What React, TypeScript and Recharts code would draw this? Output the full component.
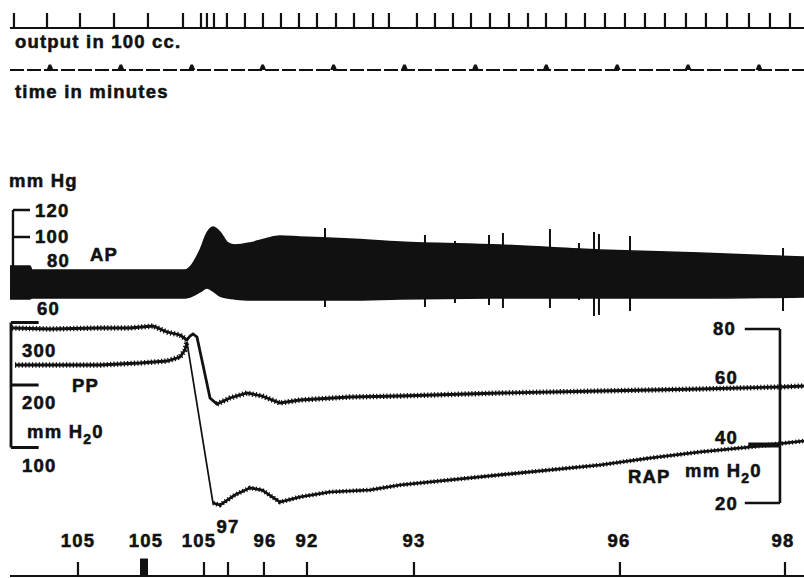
import React from 'react';
import { ComposedChart, Line, Area, Scatter, XAxis, YAxis } from 'recharts';

// ---------- data (time in minutes, values in each trace's own unit) ----------
// drop counter: moments when 100 cc of output were recorded
const outputDrops = [-0.508, -0.042, 0.423, 0.903, 1.382, 1.876, 2.13, 2.214, 2.313, 2.496, 2.75, 3.004, 3.258, 3.512, 3.766, 4.034, 4.288, 4.556, 4.781, 5.176, 5.43, 5.684, 5.938, 6.206, 6.474, 6.742, 6.996, 7.278, 7.546, 7.828, 8.11, 8.392, 8.674, 8.97, 9.252, 9.549, 9.859, 10.155, 10.437];
// time marks (minutes)
const minuteMarks = [0, 1, 2, 3, 4, 5, 6, 7, 8, 9, 10];

// arterial pressure envelope, mm Hg
const apTimes = [-0.564, -0.282, -0.254, 0.705, 1.904, 1.975, 2.116, 2.214, 2.299, 2.398, 2.511, 2.609, 2.821, 3.032, 3.244, 3.526, 4.231, 4.937, 6.347, 7.757, 9.168, 10.635];
const apLow = [54.1, 54.1, 54.8, 54.8, 54.8, 55.6, 59.3, 62.2, 60.0, 56.3, 54.8, 54.1, 53.3, 53.3, 53.3, 53.3, 53.3, 54.1, 54.8, 54.8, 54.8, 55.6];
const apHigh = [78.5, 78.5, 75.6, 75.6, 75.6, 77.8, 90.4, 103.0, 107.4, 103.7, 95.6, 94.1, 95.6, 98.5, 100.7, 100.0, 98.5, 96.3, 94.1, 90.4, 88.1, 85.2];
// extrasystole spikes on AP, mm Hg
const apSpikeTimes = [3.879, 5.289, 5.712, 6.192, 6.389, 7.052, 7.461, 7.673, 7.743, 8.181, 10.339];
const apSpikeLow = [48.1, 48.1, 51.1, 49.6, 47.4, 47.4, 53.3, 41.5, 42.2, 45.2, 45.2];
const apSpikeHigh = [106.7, 101.5, 97.0, 101.5, 103.0, 105.9, 95.6, 103.7, 102.2, 100.7, 91.9];

// PP, mm H2O: upper trace
const ppUpperTimes = [-0.536, 0, 0.705, 1.128, 1.453, 1.65, 1.834, 1.932, 1.975, 2.017, 2.073, 2.158, 2.257, 2.355, 2.539, 2.779, 2.99, 3.244, 3.526, 4.231, 4.937, 6.347, 7.757, 9.168, 10.296, 10.635];
const ppUpperValues = [291.2, 289.6, 291.2, 291.2, 294.4, 284.8, 280, 272, 278.4, 281.6, 276.8, 232, 179.2, 169.6, 179.2, 187.2, 182.4, 171.2, 176, 180.8, 182.4, 187.2, 190.4, 193.6, 196.8, 198.4];
// PP, mm H2O: lower trace before the change
const ppLowerTimes = [-0.494, 0.705, 1.269, 1.65, 1.834, 1.904, 1.932];
const ppLowerValues = [232, 232, 235.2, 238.4, 244.8, 256, 268.8];
// RAP, mm H2O
const rapTimes = [1.932, 2.299, 2.398, 2.609, 2.821, 2.99, 3.244, 3.526, 3.949, 4.513, 4.937, 6.347, 7.757, 8.463, 9.168, 9.873, 10.635];
const rapValues = [75.5, 20.0, 19.3, 22.8, 25.2, 24.5, 20.3, 22.1, 23.8, 24.5, 26.2, 29.7, 33.1, 35.5, 37.6, 39.3, 41.4];

// scale brackets
const apScaleTicks = [120, 100];
const ppScaleTicks = [300, 200, 100];
const rapScaleTicks = [80, 20];
const rapScaleMark = 40;

// bottom event marks and their numbers
const bottomTicks = [0.395, 2.172, 2.511, 3.018, 3.625, 5.134, 8.039, 10.367];
const bottomBlock = 1.326;
const bottomLabelTimes = [0.395, 1.354, 2.101, 2.511, 3.032, 3.625, 5.134, 8.025, 10.339];
const bottomLabelTexts = ['105', '105', '105', '97', '96', '92', '93', '96', '98'];
const bottomLabelRaised = [false, false, false, true, false, false, false, false, false];

// ---------- layout ----------
const W = 804;
const H = 578;
const X_DOMAIN: [number, number] = [-0.705, 10.635];
const T_START = -0.564;
const T_END = 10.635;
const AP_BR_X = -0.522, AP_TICK_END = -0.282;
const PP_BR_X = -0.55, PP_TICK_END = -0.16;
const RAP_BR_X = 10.296, RAP_TICK_START = 9.8;

function yDomain(refValue: number, refPx: number, pxPerUnit: number): [number, number] {
  return [refValue - (H - refPx) / pxPerUnit, refValue + refPx / pxPerUnit];
}

type P = { t: number; v: number | null };
function segs(list: Array<Array<[number, number]>>): P[] {
  const out: P[] = [];
  list.forEach((s, i) => {
    if (i > 0) out.push({ t: s[0][0], v: null });
    s.forEach(([t, v]) => out.push({ t, v }));
  });
  return out;
}
function series(ts: number[], vs: number[]): P[] {
  return ts.map((t, i) => ({ t, v: vs[i] }));
}
function tickRow(ticks: number[]): P[] {
  const out: P[] = [{ t: T_START, v: 0 }];
  ticks.forEach((t) => { out.push({ t, v: 0 }, { t, v: 1 }, { t, v: 0 }); });
  out.push({ t: T_END, v: 0 });
  return out;
}

const apData = apTimes.map((t, i) => ({ t, range: [apLow[i], apHigh[i]] }));
const apSpikes = segs(apSpikeTimes.map((t, i) => [[t, apSpikeLow[i]], [t, apSpikeHigh[i]]]));
const ppUpper = series(ppUpperTimes, ppUpperValues);
const ppLower = series(ppLowerTimes, ppLowerValues);
const rap = series(rapTimes, rapValues);
const ppUpperWavyA = ppUpper.filter((p) => p.t <= 1.932);
const ppUpperWavyB = ppUpper.filter((p) => p.t >= 2.355);
const rapWavy = rap.filter((p) => p.t >= 2.299);

const apBracket = segs([
  [[AP_BR_X, apScaleTicks[0]], [AP_BR_X, apHigh[0]]],
  ...apScaleTicks.map((v) => [[AP_BR_X, v], [AP_TICK_END, v]] as Array<[number, number]>),
]);
const ppBracket = segs([
  [[PP_BR_X, ppScaleTicks[0]], [PP_BR_X, ppScaleTicks[ppScaleTicks.length - 1]]],
  ...ppScaleTicks.map((v) => [[PP_BR_X, v], [PP_TICK_END, v]] as Array<[number, number]>),
]);
const rapBracket = segs([
  [[RAP_BR_X, rapScaleTicks[0]], [RAP_BR_X, rapScaleTicks[rapScaleTicks.length - 1]]],
  ...rapScaleTicks.map((v) => [[RAP_TICK_START, v], [RAP_BR_X, v]] as Array<[number, number]>),
]);
const rapMark = [{ t: RAP_TICK_START + 0.05, v: rapScaleMark }, { t: RAP_BR_X, v: rapScaleMark }];

const outputRow = tickRow(outputDrops);
const minuteBase = [{ t: T_START, v: 0 }, { t: T_END, v: 0 }];
const minuteData = minuteMarks.map((t) => ({ t, v: 0 }));
const bottomRow = tickRow(bottomTicks);
const blockData = [{ t: bottomBlock, v: 0 }, { t: bottomBlock, v: 1.25 }];
const bottomLabels = bottomLabelTimes.map((t, i) => ({ t, v: 0, text: bottomLabelTexts[i], raised: bottomLabelRaised[i] }));

const INK = '#111';
const FONT = '"Liberation Sans", Arial, Helvetica, sans-serif';
const textStyle: React.CSSProperties = { fontFamily: FONT, fontWeight: 700, fontSize: 18.5, letterSpacing: 1.2, stroke: INK, strokeWidth: 0.55 };

const TriangleMark = (props: any) => {
  const { cx, cy } = props;
  if (cx == null || cy == null) return null;
  return <path d={`M${cx - 3.5},${cy} L${cx - 1.2},${cy - 5.5} L${cx + 1.2},${cy - 5.5} L${cx + 3.5},${cy} Z`} fill={INK} />;
};
const BottomLabel = (props: any) => {
  const { cx, cy, payload } = props;
  if (cx == null || cy == null) return null;
  return (
    <text x={cx} y={cy - (payload.raised ? 43 : 29)} textAnchor="middle" fill={INK} style={textStyle}>
      {payload.text}
    </text>
  );
};

const Sub = ({ x, y }: { x: number; y: number }) => (
  <text x={x} y={y} fill={INK} style={textStyle}>
    mm H<tspan dy={6} fontSize={14}>2</tspan><tspan dy={-6}>0</tspan>
  </text>
);

const texts: Array<[string, number, number]> = [
  ['output in 100 cc.', 15, 48],
  ['time in minutes', 15, 98],
  ['mm Hg', 9, 187],
  ['120', 35, 217],
  ['100', 35, 243],
  ['80', 47, 267],
  ['AP', 90, 261],
  ['60', 37, 315],
  ['300', 22, 357],
  ['PP', 72, 392],
  ['200', 22, 409],
  ['100', 22, 472],
  ['80', 713, 335],
  ['60', 715, 384],
  ['40', 715, 444],
  ['RAP', 628, 483],
  ['20', 715, 510],
];

export default function App() {
  const lineProps = { dot: false, activeDot: false, isAnimationActive: false, stroke: INK, dataKey: 'v', type: 'linear' as const };
  const wavy = { ...lineProps, strokeWidth: 5.4, strokeDasharray: '1.2 2.2' };
  return (
    <div style={{ position: 'absolute', left: 0, top: 0, width: W, height: H, background: '#fff' }}>
      <ComposedChart width={W} height={H} margin={{ top: 0, right: 0, bottom: 0, left: 0 }}>
        <XAxis xAxisId="x" dataKey="t" type="number" domain={X_DOMAIN} allowDataOverflow hide />
        <YAxis yAxisId="out" dataKey="v" type="number" domain={yDomain(0, 28, 15)} allowDataOverflow hide />
        <YAxis yAxisId="min" dataKey="v" type="number" domain={yDomain(0, 70, 5)} allowDataOverflow hide />
        <YAxis yAxisId="ap" dataKey="v" type="number" domain={yDomain(120, 210, 1.35)} allowDataOverflow hide />
        <YAxis yAxisId="pp" dataKey="v" type="number" domain={yDomain(200, 385, 0.625)} allowDataOverflow hide />
        <YAxis yAxisId="rap" dataKey="v" type="number" domain={yDomain(40, 445, 2.9)} allowDataOverflow hide />
        <YAxis yAxisId="ev" dataKey="v" type="number" domain={yDomain(0, 576, 14)} allowDataOverflow hide />

        {/* top rows */}
        <Line {...lineProps} xAxisId="x" yAxisId="out" data={outputRow} strokeWidth={2.2} />
        <Line {...lineProps} xAxisId="x" yAxisId="min" data={minuteBase} strokeWidth={1.8} strokeDasharray="14 3" />
        <Scatter xAxisId="x" yAxisId="min" data={minuteData} dataKey="v" shape={TriangleMark} isAnimationActive={false} />

        {/* AP */}
        <Area xAxisId="x" yAxisId="ap" data={apData} dataKey="range" type="monotone" stroke={INK} strokeWidth={1.5} fill={INK} fillOpacity={1} dot={false} activeDot={false} isAnimationActive={false} />
        <Line {...lineProps} xAxisId="x" yAxisId="ap" data={apSpikes} strokeWidth={2} />
        <Line {...lineProps} xAxisId="x" yAxisId="ap" data={apBracket} strokeWidth={2.4} />

        {/* PP and RAP */}
        <Line {...lineProps} xAxisId="x" yAxisId="pp" data={ppBracket} strokeWidth={2.8} />
        <Line {...lineProps} xAxisId="x" yAxisId="pp" data={ppUpper} strokeWidth={2.8} />
        <Line {...wavy} xAxisId="x" yAxisId="pp" data={ppUpperWavyA} />
        <Line {...wavy} xAxisId="x" yAxisId="pp" data={ppUpperWavyB} />
        <Line {...lineProps} xAxisId="x" yAxisId="pp" data={ppLower} strokeWidth={2.8} />
        <Line {...wavy} xAxisId="x" yAxisId="pp" data={ppLower} />
        <Line {...lineProps} xAxisId="x" yAxisId="rap" data={rap} strokeWidth={1.7} />
        <Line {...lineProps} xAxisId="x" yAxisId="rap" data={rapWavy} strokeWidth={2.6} />
        <Line {...wavy} xAxisId="x" yAxisId="rap" data={rapWavy} strokeWidth={4.6} />
        <Line {...lineProps} xAxisId="x" yAxisId="rap" data={rapBracket} strokeWidth={2.6} />
        <Line {...lineProps} xAxisId="x" yAxisId="rap" data={rapMark} strokeWidth={5} />

        {/* bottom events */}
        <Line {...lineProps} xAxisId="x" yAxisId="ev" data={bottomRow} strokeWidth={2.2} />
        <Line {...lineProps} xAxisId="x" yAxisId="ev" data={blockData} strokeWidth={8} />
        <Scatter xAxisId="x" yAxisId="ev" data={bottomLabels} dataKey="v" shape={BottomLabel} isAnimationActive={false} />
      </ComposedChart>
      <svg width={W} height={H} style={{ position: 'absolute', left: 0, top: 0, pointerEvents: 'none' }}>
        {texts.map(([s, x, y], i) => (
          <text key={i} x={x} y={y} fill={INK} style={textStyle}>{s}</text>
        ))}
        <Sub x={27} y={438} />
        <Sub x={685} y={477} />
      </svg>
    </div>
  );
}
